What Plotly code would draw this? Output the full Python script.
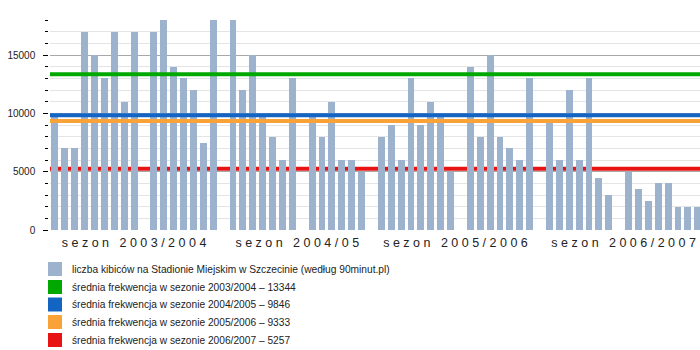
import plotly.graph_objects as go

# ---- data ----
attendance = [10000, 7000, 7000, 17000, 15000, 13000, 17000, 11000, 17000, None,
              17000, 18000, 14000, 13000, 12000, 7500, 18000, None,
              18000, 12000, 15000, 10000, 8000, 6000, 13000, None,
              10000, 8000, 11000, 6000, 6000, 5000, None,
              8000, 9000, 6000, 13000, 9000, 11000, 10000, 5000, None,
              14000, 8000, 15000, 8000, 7000, 6000, 13000, None,
              9300, 6000, 12000, 6000, 13000, 4500, 3000, None,
              5000, 3500, 2500, 4000, 4000, 2000, 2000, 2000]
season_first = [0, 18, 33, 50]
season_last = [16, 31, 48, 65]
season_labels = ["s e z o n   2 0 0 3 / 2 0 0 4", "s e z o n   2 0 0 4 / 0 5",
                 "s e z o n   2 0 0 5 / 2 0 0 6", "s e z o n   2 0 0 6 / 2 0 0 7"]
y_tick_values = [0, 5000, 10000, 15000]
y_tick_labels = ["0", "5000", "10000", "15000"]
season_means = [13344, 9846, 9333, 5257]
mean_colors = ["#00a800", "#1464c4", "#f8a238", "#e81414"]
bar_label = "liczba kibiców na Stadionie Miejskim w Szczecinie (według 90minut.pl)"
mean_labels = ["średnia frekwencja w sezonie 2003/2004 – 13344",
               "średnia frekwencja w sezonie 2004/2005 – 9846",
               "średnia frekwencja w sezonie 2005/2006 – 9333",
               "średnia frekwencja w sezonie 2006/2007 – 5257"]
bar_color = "#9db3cd"

W, H = 700, 350
ML, MR, MT, MB = 50, 0, 20, 120
pw, ph = W - ML - MR, H - MT - MB

def px2paper_x(px):
    return (px - ML) / pw

def px2paper_y(py):
    return (H - MB - py) / ph

x = list(range(len(attendance)))
fig = go.Figure()
fig.add_trace(go.Bar(x=x, y=attendance, width=0.7, marker=dict(color=bar_color, line=dict(width=0)),
                     showlegend=False, zorder=1))
xmin, xmax = -0.5, len(attendance) - 0.5
for i, (m, c) in enumerate(zip(season_means, mean_colors)):
    fig.add_trace(go.Scatter(x=[xmin, xmax], y=[m, m], mode="lines",
                             line=dict(color=c, width=4), showlegend=False,
                             zorder=0 if i == 3 else 2))

centers = [(a + b) / 2 for a, b in zip(season_first, season_last)]

fig.update_layout(
    width=W, height=H, margin=dict(l=ML, r=MR, t=MT, b=MB),
    plot_bgcolor="white", paper_bgcolor="white",
    font=dict(family="Liberation Sans, Arial, sans-serif", color="#222"),
    bargap=0, showlegend=False,
    xaxis=dict(range=[-0.5, -0.5 + pw / 9.89], showgrid=False, zeroline=False,
               showline=True, linecolor="black", linewidth=1.5,
               tickmode="array", tickvals=centers, ticktext=season_labels,
               ticks="", tickfont=dict(size=12.5, color="#222")),
    yaxis=dict(range=[0, 18000], tickmode="array", tickvals=y_tick_values, ticktext=y_tick_labels,
               showgrid=True, gridcolor="#a8a8a8", gridwidth=1, zeroline=False,
               showline=True, linecolor="black", linewidth=1.5,
               ticks="outside", ticklen=5, tickcolor="black", tickwidth=1,
               ticklabelstandoff=6,
               tickfont=dict(size=10, color="#222"),
               minor=dict(dtick=1000, tick0=0, showgrid=True, gridcolor="#e4e4e4",
                          ticks="outside", ticklen=3, tickcolor="black")),
)

# manual legend
rows_y = [269, 287, 304.5, 322, 340]
entries = [(bar_color, bar_label)] + list(zip(mean_colors, mean_labels))
for (col, lab), ry in zip(entries, rows_y):
    fig.add_shape(type="rect", xref="paper", yref="paper",
                  x0=px2paper_x(48), x1=px2paper_x(62),
                  y0=px2paper_y(ry - 7), y1=px2paper_y(ry + 7),
                  fillcolor=col, line=dict(width=0))
    fig.add_annotation(xref="paper", yref="paper", x=px2paper_x(70), y=px2paper_y(ry),
                       xanchor="left", yanchor="middle", showarrow=False, text=lab,
                       font=dict(size=10.2, color="#222", family="Liberation Sans, Arial, sans-serif"))

fig.write_html("out.html")
